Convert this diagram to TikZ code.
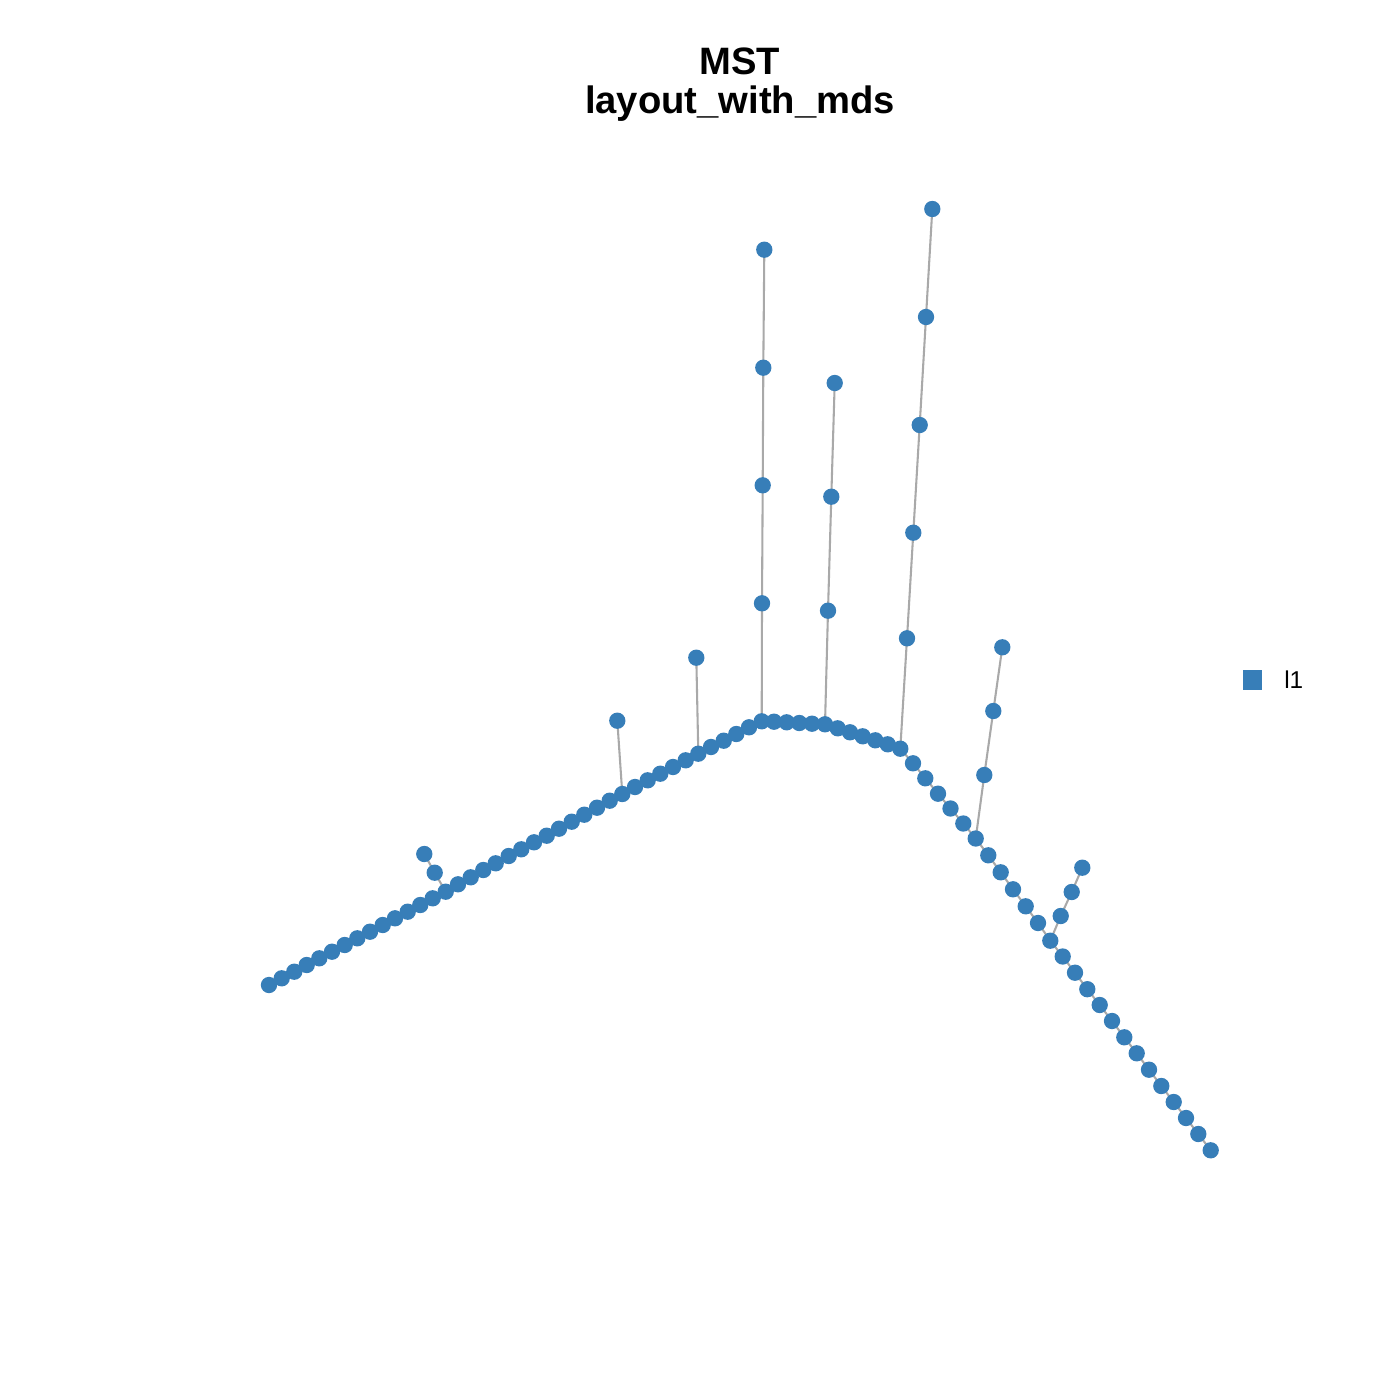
\documentclass[tikz,border=0pt]{standalone}
\usepackage{fontspec}
\setmainfont{Liberation Sans}
\usetikzlibrary{backgrounds}
\definecolor{dotblue}{HTML}{377EB8}
\definecolor{edgegray}{HTML}{A9A9A9}
\begin{document}
\begin{tikzpicture}[x=0.36135pt,y=-0.36135pt,
  vtx/.style={circle,fill=dotblue,draw=none,inner sep=0pt,minimum size=5.9pt},
  edge/.style={draw=edgegray,line width=0.75pt},
  keybox/.style={fill=dotblue,draw=none,inner sep=0pt,minimum size=6.9pt},
  ttl/.style={anchor=base,inner sep=0pt,font=\bfseries\fontsize{13.8}{16}\selectfont},
  keytext/.style={anchor=base west,inner sep=0pt,font=\fontsize{8.8}{10}\selectfont}]
\useasboundingbox (0,0) rectangle (1400,1400);
% main chain
\foreach \x/\y [count=\i] in {
 269/985, 281.7/978.3, 294.3/971.7, 306.7/965, 319.3/958.3, 332/951.7, 344.7/945, 357.3/938.3,
 370/931.7, 382.7/925, 395/918.3, 407.7/911.7, 420.3/905, 432.7/898.3, 445.7/891.7, 458/884.3,
 470.7/877.3, 483.3/870, 495.7/863.3, 508.7/856, 521.3/849.3, 534/842.3, 546.7/835.7, 559/828.7,
 571.7/821.7, 584.3/814.7, 597/807.7, 609.7/800.7, 622.3/794, 635/787, 647.7/780.3, 660.3/773.7,
 673/767, 685.7/760.3, 698.3/753.7, 711/747, 723.7/740.7, 736.3/734, 749/727.3, 761.7/721.3,
 774/721.7, 786.7/722.3, 799.3/723, 812/723.7, 825/724.3, 837.7/728.3, 850/732.3, 862.7/736.3,
 875.3/740.3, 887.7/744.3, 900.3/748.7, 913/763.3, 925.3/778.3, 938/793.7, 950.5/808.5, 963.3/823.5,
 975.7/838.5, 988.3/855.3, 1000.7/872.3, 1013/889.3, 1025.7/906.3, 1038/923, 1050.3/940.7, 1062.7/956.5,
 1075/972.7, 1087.3/989.2, 1099.7/1005, 1112/1021, 1124.3/1037.3, 1136.7/1053.3, 1149/1069.7, 1161.3/1086,
 1173.7/1102, 1186/1118, 1198.3/1134, 1210.7/1150.3}
 \node[vtx] (m\i) at (\x,\y) {};
% branches
\node[vtx] (p1) at (434.7,872.7) {};
\node[vtx] (p2) at (424.3,854) {};
\node[vtx] (q1) at (617.3,720.7) {};
\node[vtx] (r1) at (696.3,657.7) {};
\foreach \x/\y [count=\i] in {762/603.3, 762.7/485.3, 763.3/367.7, 764.3/249.7}
 \node[vtx] (a\i) at (\x,\y) {};
\foreach \x/\y [count=\i] in {828/610.7, 831.3/496.7, 834.7/383}
 \node[vtx] (b\i) at (\x,\y) {};
\foreach \x/\y [count=\i] in {907/638.3, 913.3/532.7, 919.7/425, 926/317, 932.3/209}
 \node[vtx] (c\i) at (\x,\y) {};
\foreach \x/\y [count=\i] in {984.3/775, 993.3/711, 1002.3/647.3}
 \node[vtx] (d\i) at (\x,\y) {};
\foreach \x/\y [count=\i] in {1060.7/916, 1071.7/892, 1082.3/867.7}
 \node[vtx] (e\i) at (\x,\y) {};
% edges
\begin{scope}[on background layer]
 \foreach \i [evaluate=\i as \j using int(\i+1)] in {1,...,75}
  \draw[edge] (m\i.center) -- (m\j.center);
 \draw[edge] (m15.center) -- (p1.center) -- (p2.center);
 \draw[edge] (m29.center) -- (q1.center);
 \draw[edge] (m35.center) -- (r1.center);
 \draw[edge] (m40.center) -- (a1.center) -- (a2.center) -- (a3.center) -- (a4.center);
 \draw[edge] (m45.center) -- (b1.center) -- (b2.center) -- (b3.center);
 \draw[edge] (m51.center) -- (c1.center) -- (c2.center) -- (c3.center) -- (c4.center) -- (c5.center);
 \draw[edge] (m57.center) -- (d1.center) -- (d2.center) -- (d3.center);
 \draw[edge] (m63.center) -- (e1.center) -- (e2.center) -- (e3.center);
\end{scope}
% title
\node[ttl] (t1) at (739.5,75) {MST};
\node[ttl] (t2) at (740,114) {layout\_with\_mds};
% legend
\node[keybox] (key) at (1252.5,680) {};
\node[keytext] (keylab) at (1283.7,688) {l1};
\end{tikzpicture}
\end{document}
